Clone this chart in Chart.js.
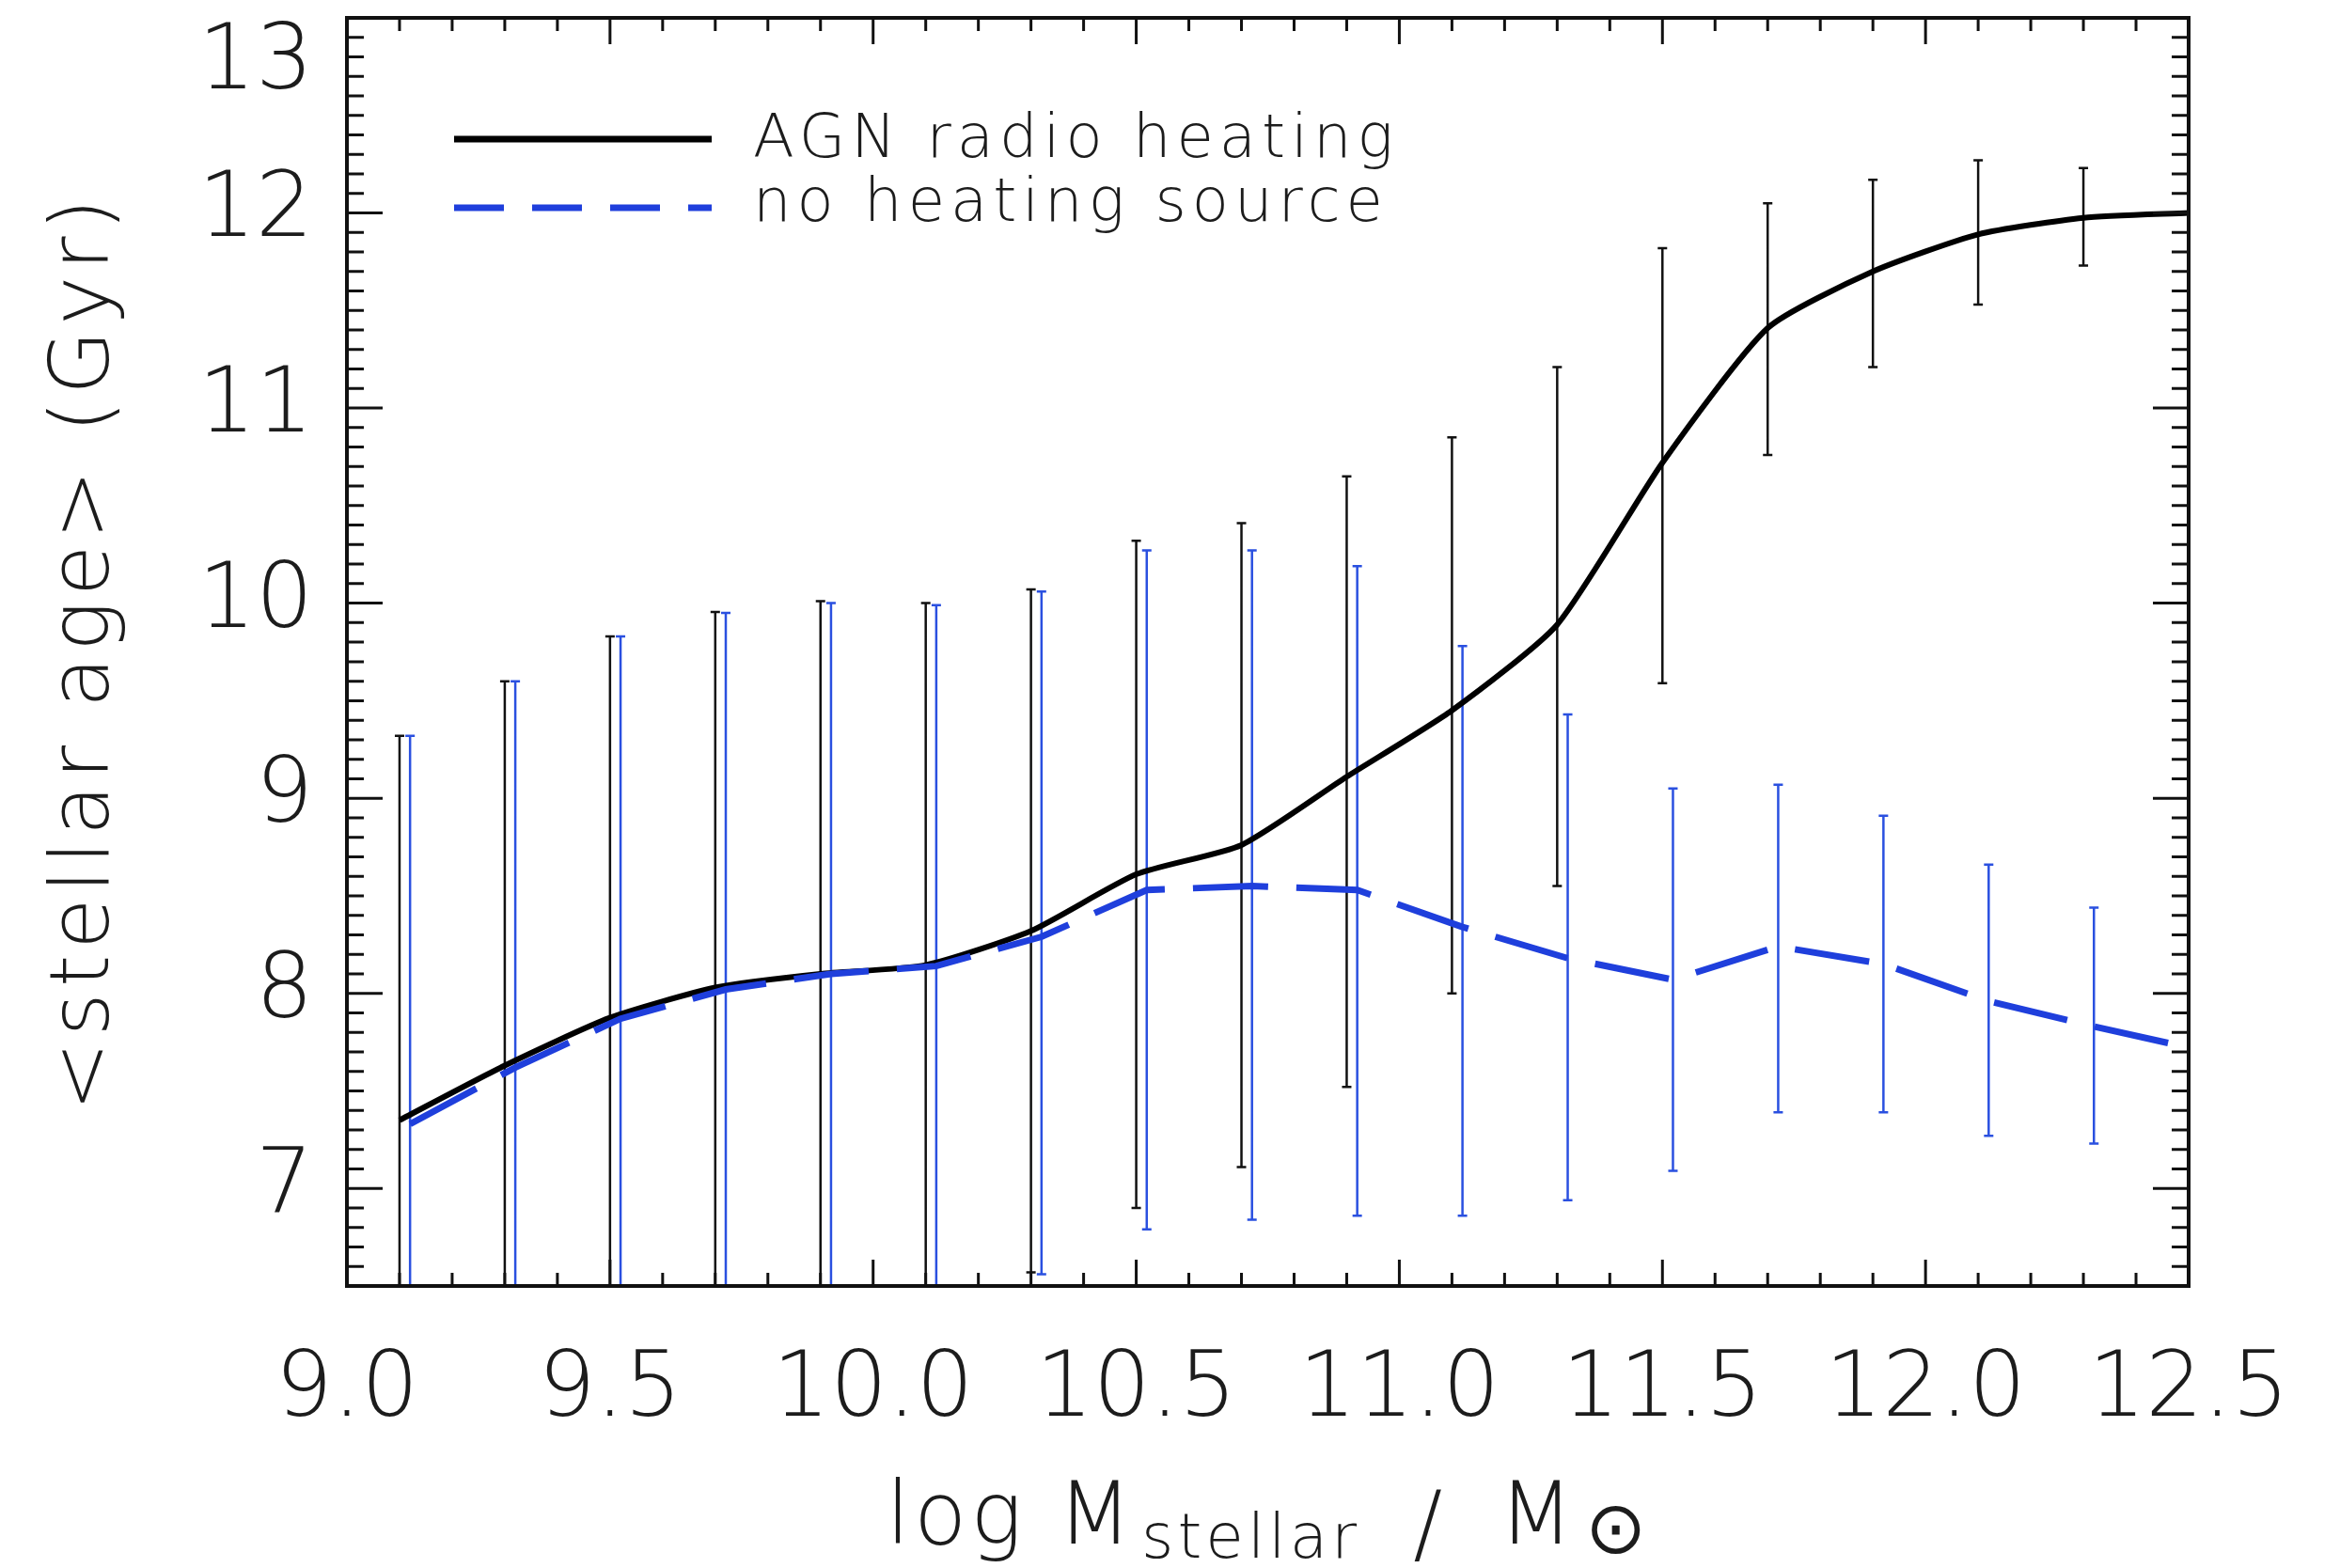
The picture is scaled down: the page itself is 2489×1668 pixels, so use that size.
<!DOCTYPE html>
<html>
<head>
<meta charset="utf-8">
<script src="https://cdn.jsdelivr.net/npm/chart.js@4.4.1/dist/chart.umd.min.js"></script>
<style>
  html, body { margin: 0; padding: 0; background: #fff; }
  canvas { display: block; }
</style>
</head>
<body>
<canvas id="ageChart" width="2489" height="1668"></canvas>
<script>
// mean stellar age vs stellar mass, with and without AGN radio heating

const massAgn = [9.1, 9.3, 9.5, 9.7, 9.9, 10.1, 10.3, 10.5, 10.7, 10.9, 11.1, 11.3, 11.5, 11.7, 11.9, 12.1, 12.3, 12.5];
const ageAgn = [7.35, 7.63, 7.875, 8.03, 8.10, 8.145, 8.32, 8.61, 8.76, 9.11, 9.45, 9.89, 10.72, 11.41, 11.70, 11.89, 11.975, 12.0];
const ageAgnLow = [5.38, 5.66, 5.92, 6.10, 6.19, 6.29, 6.57, 6.90, 7.11, 7.52, 8.00, 8.55, 9.59, 10.76, 11.21, 11.53, 11.73];
const ageAgnHigh = [9.32, 9.60, 9.83, 9.955, 10.01, 10.00, 10.07, 10.32, 10.41, 10.65, 10.85, 11.21, 11.82, 12.05, 12.17, 12.27, 12.23];

const massNoHeat = [9.12, 9.32, 9.52, 9.72, 9.92, 10.12, 10.32, 10.52, 10.72, 10.92, 11.12, 11.32, 11.52, 11.72, 11.92, 12.12, 12.32, 12.52];
const ageNoHeat = [7.33, 7.62, 7.87, 8.02, 8.10, 8.14, 8.29, 8.53, 8.55, 8.53, 8.34, 8.18, 8.07, 8.24, 8.15, 7.96, 7.83, 7.71];
const ageNoHeatLow = [5.34, 5.64, 5.91, 6.09, 6.20, 6.29, 6.56, 6.79, 6.84, 6.86, 6.86, 6.94, 7.09, 7.39, 7.39, 7.27, 7.23];
const ageNoHeatHigh = [9.32, 9.60, 9.83, 9.95, 10.00, 9.99, 10.06, 10.27, 10.27, 10.19, 9.78, 9.43, 9.05, 9.07, 8.91, 8.66, 8.44];

const seriesLabels = ['AGN radio heating', 'no heating source'];
const xTitle = ['log M', 'stellar', '/', 'M', '\u2299'];
const yTitle = '<stellar age> (Gyr)';

const FONT = "'DejaVu Sans', 'Liberation Sans', sans-serif";
const TEXT = '#1c1c1c';
const BLUE = '#1f3fdc';

const toPoints = (xs, ys) => xs.map((v, i) => ({ x: v, y: ys[i] }));

function errorBars(ctx, chart, xs, lo, hi, color) {
    const { x, y } = chart.scales;
    ctx.strokeStyle = color;
    ctx.lineWidth = 2.5;
    ctx.beginPath();
    xs.forEach((v, i) => {
        if (i >= lo.length) return;
        const px = x.getPixelForValue(v);
        const p1 = y.getPixelForValue(lo[i]);
        const p2 = y.getPixelForValue(hi[i]);
        ctx.moveTo(px, p1); ctx.lineTo(px, p2);
        ctx.moveTo(px - 5, p1); ctx.lineTo(px + 5, p1);
        ctx.moveTo(px - 5, p2); ctx.lineTo(px + 5, p2);
    });
    ctx.stroke();
}

const idlFrame = {
    id: 'idlFrame',
    beforeDatasetsDraw(chart) {
        const { ctx, chartArea: a } = chart;
        ctx.save();
        ctx.beginPath();
        ctx.rect(a.left, a.top, a.width, a.height);
        ctx.clip();
        errorBars(ctx, chart, massAgn, ageAgnLow, ageAgnHigh, '#111');
        errorBars(ctx, chart, massNoHeat, ageNoHeatLow, ageNoHeatHigh, '#2a50e0');
        ctx.restore();
    },
    afterDraw(chart) {
        const { ctx, chartArea: a, scales: { x, y } } = chart;
        ctx.save();

        // box and inward ticks on all four sides
        ctx.strokeStyle = '#111';
        ctx.lineWidth = 4;
        ctx.strokeRect(a.left, a.top, a.width, a.height);
        ctx.lineWidth = 3;
        ctx.beginPath();
        for (let i = 0; i <= 35; i++) {
            const px = x.getPixelForValue(9 + i / 10);
            const len = i % 5 === 0 ? 28 : 14;
            ctx.moveTo(px, a.bottom); ctx.lineTo(px, a.bottom - len);
            ctx.moveTo(px, a.top); ctx.lineTo(px, a.top + len);
        }
        for (let i = 0; i <= 65; i++) {
            const py = y.getPixelForValue(6.5 + i / 10);
            const len = (i + 5) % 10 === 0 ? 38 : 18;
            ctx.moveTo(a.left, py); ctx.lineTo(a.left + len, py);
            ctx.moveTo(a.right, py); ctx.lineTo(a.right - len, py);
        }
        ctx.stroke();

        ctx.fillStyle = TEXT;

        // top tick label sits inside the frame height, as in the original
        ctx.font = '200 96px ' + FONT;
        ctx.textAlign = 'right';
        ctx.textBaseline = 'middle';
        ctx.fillText('13', a.left - 36, y.getPixelForValue(13) + 50);

        // y title
        ctx.save();
        ctx.font = '200 88px ' + FONT;
        ctx.letterSpacing = '6px';
        ctx.textAlign = 'center';
        ctx.textBaseline = 'alphabetic';
        ctx.translate(115, (a.top + a.bottom) / 2);
        ctx.rotate(-Math.PI / 2);
        ctx.fillText(yTitle, 0, 0);
        ctx.restore();

        // x title with subscripts
        ctx.textAlign = 'left';
        ctx.textBaseline = 'alphabetic';
        ctx.letterSpacing = '4px';
        const big = '200 92px ' + FONT, small = '200 66px ' + FONT;
        const parts = [
            { t: xTitle[0], f: big, dy: 0, gap: 0 },
            { t: xTitle[1], f: small, dy: 15, gap: 6 },
            { t: xTitle[2], f: big, dy: 10, gap: 56 },
            { t: xTitle[3], f: big, dy: 0, gap: 56 },
            { t: xTitle[4], f: '200 78px ' + FONT, dy: 10, gap: 8 }
        ];
        let total = 0;
        parts.forEach(p => { ctx.font = p.f; p.w = ctx.measureText(p.t).width; total += p.gap + p.w; });
        let cx = (a.left + a.right) / 2 - total / 2;
        parts.forEach(p => {
            cx += p.gap;
            ctx.font = p.f;
            ctx.fillText(p.t, cx, a.bottom + 274 + p.dy);
            cx += p.w;
        });

        // legend
        ctx.lineWidth = 7;
        ctx.strokeStyle = '#000';
        ctx.beginPath();
        ctx.moveTo(a.left + 114, a.top + 129); ctx.lineTo(a.left + 388, a.top + 129);
        ctx.stroke();
        ctx.strokeStyle = BLUE;
        ctx.setLineDash([53, 30]);
        ctx.beginPath();
        ctx.moveTo(a.left + 114, a.top + 202); ctx.lineTo(a.left + 388, a.top + 202);
        ctx.stroke();
        ctx.setLineDash([]);
        ctx.font = '200 64px ' + FONT;
        ctx.letterSpacing = '6px';
        ctx.fillText(seriesLabels[0], a.left + 432, a.top + 148);
        ctx.fillText(seriesLabels[1], a.left + 432, a.top + 216);

        ctx.restore();
    }
};

new Chart(document.getElementById('ageChart'), {
    type: 'line',
    data: {
        datasets: [
            {
                label: seriesLabels[0],
                data: toPoints(massAgn, ageAgn),
                borderColor: '#000',
                borderWidth: 6,
                pointRadius: 0,
                tension: 0.2,
                clip: 0,
                order: 2
            },
            {
                label: seriesLabels[1],
                data: toPoints(massNoHeat, ageNoHeat),
                borderColor: BLUE,
                borderWidth: 7,
                borderDash: [80, 30],
                pointRadius: 0,
                tension: 0,
                clip: 0,
                order: 1
            }
        ]
    },
    options: {
        responsive: false,
        animation: false,
        devicePixelRatio: 1,
        layout: { padding: { top: 19, right: 161, left: 0, bottom: 0 } },
        scales: {
            x: {
                type: 'linear',
                min: 9,
                max: 12.5,
                grid: { display: false, drawTicks: false },
                border: { display: false },
                ticks: {
                    stepSize: 0.5,
                    includeBounds: false,
                    padding: 55,
                    color: TEXT,
                    font: { family: FONT, size: 96, weight: 200 },
                    maxRotation: 0,
                    autoSkip: false,
                    callback: v => v.toFixed(1)
                },
                afterFit: s => { s.height = 300; s.paddingLeft = 0; s.paddingRight = 0; }
            },
            y: {
                min: 6.5,
                max: 13,
                grid: { display: false, drawTicks: false },
                border: { display: false },
                ticks: {
                    stepSize: 1,
                    includeBounds: false,
                    padding: 36,
                    color: TEXT,
                    font: { family: FONT, size: 96, weight: 200 },
                    callback: v => (v === 13 ? null : v)
                },
                afterFit: s => { s.width = 369; s.paddingTop = 0; s.paddingBottom = 0; }
            }
        },
        plugins: {
            legend: { display: false },
            tooltip: { enabled: false }
        }
    },
    plugins: [idlFrame]
});
</script>
</body>
</html>
